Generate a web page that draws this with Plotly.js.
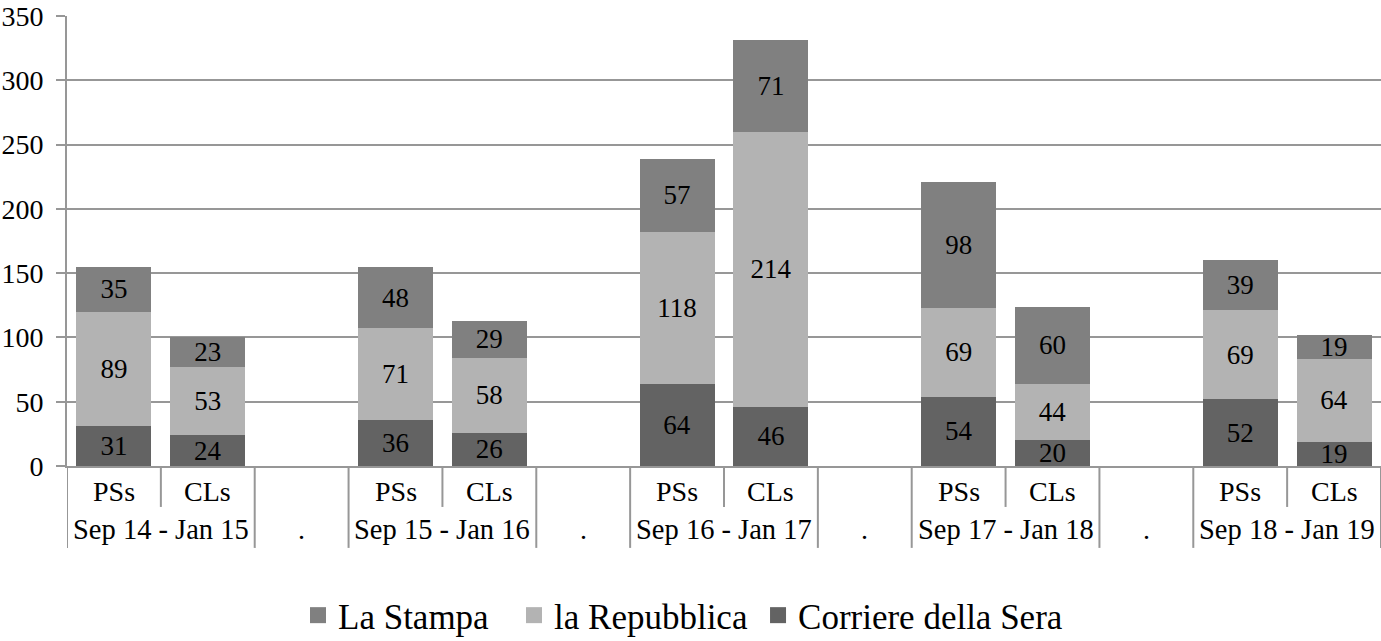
<!DOCTYPE html>
<html>
<head>
<meta charset="utf-8">
<script src="https://cdn.plot.ly/plotly-3.0.1.min.js"></script>
<style>
html,body{margin:0;padding:0;background:#fff;}
#chart{width:1381px;height:641px;}
</style>
</head>
<body>
<div id="chart"></div>
<script>
// ---- data ----
const periods = ["Sep 14 - Jan 15", "Sep 15 - Jan 16", "Sep 16 - Jan 17", "Sep 17 - Jan 18", "Sep 18 - Jan 19"];
const types = ["PSs", "CLs"];
const spacerLabel = ".";
const seriesNames = ["La Stampa", "la Repubblica", "Corriere della Sera"];
// order per period: PSs, CLs
const laStampa      = [35, 23, 48, 29, 57, 71, 98, 60, 39, 19];
const laRepubblica  = [89, 53, 71, 58, 118, 214, 69, 44, 69, 64];
const corriere      = [31, 24, 36, 26, 64, 46, 54, 20, 52, 19];
const yTicks = [0, 50, 100, 150, 200, 250, 300, 350];

// ---- styling ----
const FONT = "'Liberation Serif', 'DejaVu Serif', serif";
const GRID = "#979797";
const colors = {"La Stampa": "#808080", "la Repubblica": "#b3b3b3", "Corriere della Sera": "#636363"};
const legendX = [0.1758, 0.3402, 0.5259];   // left edges of the three legend entries (paper)

// build category slots: PSs, CLs, spacer, ...
const categoryArray = [];
const xKeys = [];
periods.forEach((p, g) => {
  types.forEach(t => { const k = p + " | " + t; categoryArray.push(k); xKeys.push(k); });
  if (g < periods.length - 1) categoryArray.push("spacer" + g);
});

function barTrace(name, vals) {
  return {
    type: "bar", name: name, x: xKeys, y: vals,
    marker: {color: colors[name], line: {width: 0}},
    width: 0.8,
    texttemplate: "%{y}", textposition: "inside", insidetextanchor: "middle",
    textangle: 0, constraintext: "none",
    textfont: {family: FONT, size: 27, color: "#000"},
    showlegend: false, hoverinfo: "skip"
  };
}
const traces = [
  barTrace("Corriere della Sera", corriere),
  barTrace("la Repubblica", laRepubblica),
  barTrace("La Stampa", laStampa)
];
const legendLayouts = {};
seriesNames.forEach((n, i) => {
  const key = i === 0 ? "legend" : "legend" + (i + 1);
  traces.push({
    type: "scatter", mode: "markers", name: n, x: [null], y: [null], legend: key,
    marker: {symbol: "square", size: 18, color: colors[n]}, hoverinfo: "skip"
  });
  legendLayouts[key] = {orientation: "h", x: legendX[i], xanchor: "left", y: -0.332, yanchor: "middle",
    font: {family: FONT, size: 35, color: "#000"}, itemwidth: 30, bgcolor: "rgba(0,0,0,0)"};
});

// category table: labels & dividers
const annotations = [];
const shapes = [];
const subY = -0.057, grpY = -0.141, shortY = -0.091, longY = -0.182;
categoryArray.forEach((c, i) => {
  if (c.startsWith("spacer")) {
    annotations.push({xref: "x", yref: "paper", x: i, y: grpY, text: spacerLabel, showarrow: false,
      font: {family: FONT, size: 28, color: "#000"}, yanchor: "middle"});
  }
});
periods.forEach((p, g) => {
  const base = categoryArray.indexOf(p + " | " + types[0]);
  types.forEach((t, k) => {
    annotations.push({xref: "x", yref: "paper", x: base + k, y: subY, text: t, showarrow: false,
      font: {family: FONT, size: 28, color: "#000"}, yanchor: "middle"});
  });
  annotations.push({xref: "x", yref: "paper", x: base + 0.5, y: grpY, text: p, showarrow: false,
    font: {family: FONT, size: 28.5, color: "#000"}, yanchor: "middle"});
});
for (let i = 0; i <= categoryArray.length; i++) {
  const pos = i - 0.5;
  const prev = categoryArray[i - 1] || "", next = categoryArray[i] || "";
  const isShort = prev.endsWith("| " + types[0]) && next.endsWith("| " + types[1]);
  shapes.push({type: "line", xref: "x", yref: "paper", x0: pos, x1: pos, y0: 0, y1: isShort ? shortY : longY,
    line: {color: GRID, width: 2}});
}

const layout = Object.assign({
  width: 1381, height: 641,
  margin: {l: 67, r: 0, t: 16, b: 175, pad: 0, autoexpand: false},
  paper_bgcolor: "#fff", plot_bgcolor: "#fff",
  barmode: "stack",
  font: {family: FONT, size: 27, color: "#000"},
  xaxis: {type: "category", categoryorder: "array", categoryarray: categoryArray,
    range: [-0.5, categoryArray.length - 0.5], showticklabels: false, ticks: "",
    showgrid: false, showline: true, linecolor: GRID, linewidth: 2, zeroline: false, fixedrange: true},
  yaxis: {range: [0, 350], tickvals: yTicks, ticks: "outside", ticklen: 9, tickwidth: 2, tickcolor: GRID,
    showgrid: true, gridcolor: GRID, gridwidth: 2, showline: true, linecolor: GRID, linewidth: 2,
    zeroline: false, ticklabelstandoff: 7, tickfont: {family: FONT, size: 28, color: "#000"}, fixedrange: true},
  annotations: annotations,
  shapes: shapes,
  showlegend: true
}, legendLayouts);

Plotly.newPlot("chart", traces, layout, {displayModeBar: false, staticPlot: true});
</script>
</body>
</html>
